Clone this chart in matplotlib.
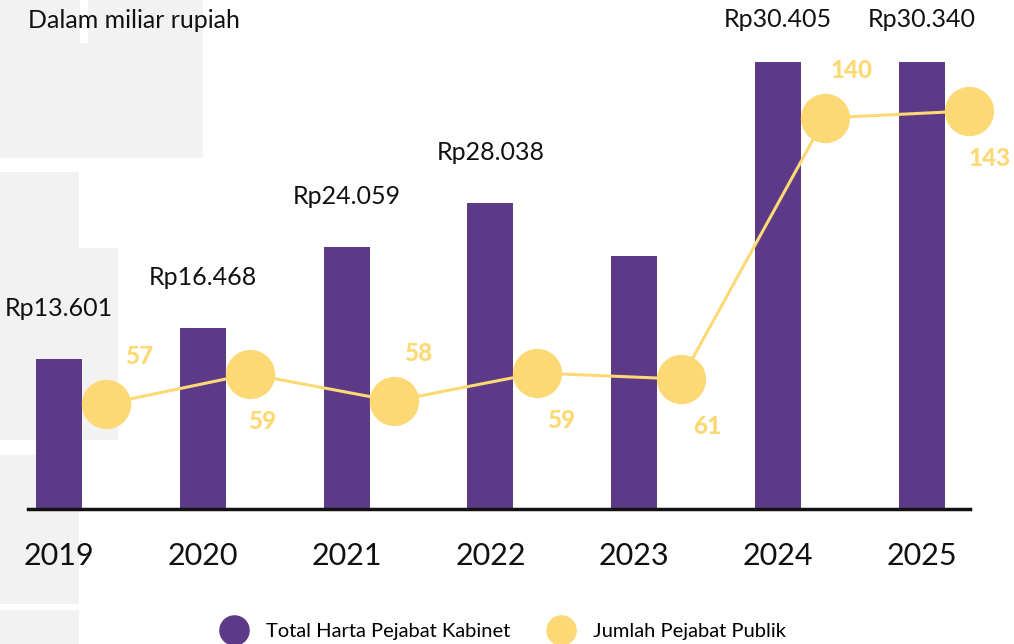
import matplotlib.pyplot as plt
from matplotlib.lines import Line2D
from matplotlib.patches import Rectangle


# -----------------------------
# Data
# -----------------------------
years = ["2019", "2020", "2021", "2022", "2023", "2024", "2025"]

# bar heights as drawn, in miliar rupiah (2024/2025 are drawn taller than scale)
harta_drawn = [13700, 16530, 23930, 27950, 23100, 40820, 40820]
harta_labels = ["Rp13.601", "Rp16.468", "Rp24.059", "Rp28.038", "", "Rp30.405", "Rp30.340"]

pejabat = [57, 59, 58, 59, 61, 140, 143]
# dot heights as drawn, in the same units as the bars
pejabat_drawn = [9590, 12330, 9860, 12420, 11870, 35710, 36350]

# label placement (style only)
label_side = [1, -1, 1, -1, -1, 1, -1]  # 1 = label above dot, -1 = below
label_dx = [24, 9, 18, 17, 19, 19, 15]  # points to the right of the dot
bar_label_pad = [31, 31, 31, 31, 31, 25, 25]  # points above bar top

PURPLE = "#5C3A87"
YELLOW = "#FDD975"
GREY = "#F2F2F2"
W, H = 1014, 644

plt.rcParams["font.family"] = ["Lato", "DejaVu Sans"]


def px_rect(x0, y0, x1, y1):
    # pixel box (origin top-left) -> figure-fraction rectangle
    return Rectangle((x0 / W, 1 - y1 / H), (x1 - x0) / W, (y1 - y0) / H,
                     transform=fig.transFigure, facecolor=GREY,
                     edgecolor="none", zorder=-10)


fig = plt.figure(figsize=(W / 100, H / 100), dpi=100)
fig.patch.set_facecolor("white")

# decorative grey blocks on the left edge
for box in [(0, 0, 80, 158), (88, 0, 203, 158), (80, 43, 88, 158),
            (0, 172, 79, 248), (0, 248, 118, 440),
            (0, 455, 79, 604), (0, 610, 79, 644)]:
    fig.patches.append(px_rect(*box))

ax = fig.add_axes([28 / W, 135 / H, 942 / W, 509 / H])
ax.patch.set_alpha(0)

x = list(range(len(years)))
offset = 0.327

ax.bar(x, harta_drawn, width=0.32, color=PURPLE, zorder=2)
for xi, h, lab, pad in zip(x, harta_drawn, harta_labels, bar_label_pad):
    if lab:
        ax.annotate(lab, (xi, h), xytext=(0, pad), textcoords="offset points",
                    ha="center", va="baseline", fontsize=18, color="#111111")

px = [xi + offset for xi in x]
ax.plot(px, pejabat_drawn, color=YELLOW, lw=2.2, zorder=3, clip_on=False)
ax.plot(px, pejabat_drawn, "o", color=YELLOW, markersize=34.5, zorder=4,
        clip_on=False)
for xi, y, n, s, dx in zip(px, pejabat_drawn, pejabat, label_side, label_dx):
    ax.annotate(str(n), (xi, y), xytext=(dx, 34 * s), textcoords="offset points",
                ha="center", va="center", fontsize=17.5, fontweight="black",
                color=YELLOW, annotation_clip=False)

ax.set_xlim((28 - 59) / 143.8, (970 - 59) / 143.8)
ax.set_ylim(0, 46484)
ax.set_xticks(x)
ax.set_xticklabels(years, fontsize=22, color="#111111")
ax.tick_params(axis="x", length=0, pad=24)
ax.set_yticks([])
for side in ["left", "right", "top"]:
    ax.spines[side].set_visible(False)
ax.spines["bottom"].set_linewidth(2.5)
ax.spines["bottom"].set_color("#111111")
ax.spines["bottom"].set_zorder(5)

fig.text(28 / W, 1 - 20 / H, "Dalam miliar rupiah", fontsize=18,
         color="#111111", va="center", ha="left")

handles = [
    Line2D([], [], marker="o", linestyle="none", color=PURPLE, markersize=21),
    Line2D([], [], marker="o", linestyle="none", color=YELLOW, markersize=21),
]
fig.legend(handles, ["Total Harta Pejabat Kabinet", "Jumlah Pejabat Publik"],
           loc="center", bbox_to_anchor=(505 / W, 1 - 631 / H), ncol=2,
           frameon=False, fontsize=14.5, handletextpad=1.1, columnspacing=2.0,
           handlelength=1.0, borderpad=0, borderaxespad=0)

fig.savefig("out.png", dpi=100)
